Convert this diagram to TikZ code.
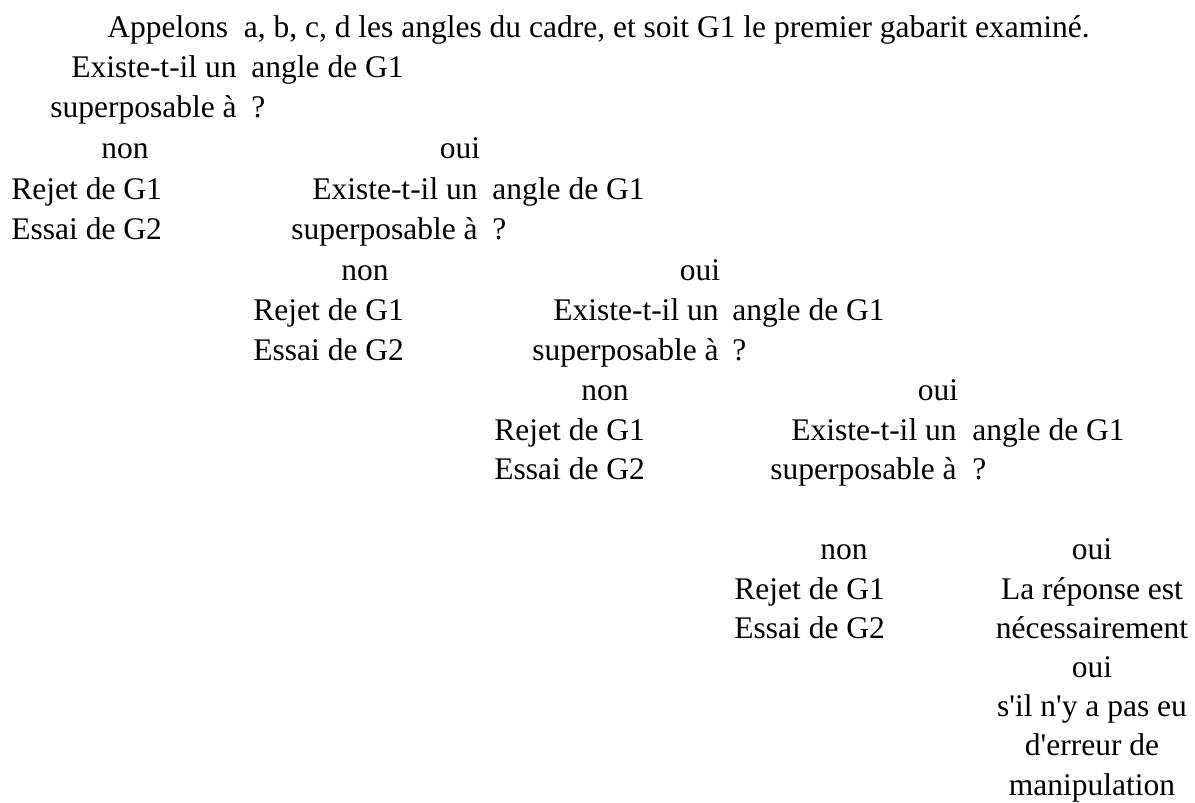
\documentclass[tikz,border=0pt]{standalone}
\usepackage{fontspec}
\usepackage{tikz}
\newfontfamily\cellfont{Liberation Serif}

\begin{document}
\begin{tikzpicture}[x=0.5pt,y=-0.5pt,
  cell/.style={inner sep=0pt,font=\cellfont\fontsize{15.75pt}{20pt}\selectfont},
  lcell/.style={cell,anchor=base west},
  rcell/.style={cell,anchor=base east},
  ccell/.style={cell,anchor=base}
]
\useasboundingbox (0,0) rectangle (1195,803);
\node[lcell] (intro) at (107,37) {Appelons\ \ a, b, c, d les angles du cadre, et soit G1 le premier gabarit examiné.};

% niveau 1
\node[rcell] (qa1) at (237,77) {Existe-t-il un};
\node[lcell] (qb1) at (251,77) {angle de G1};
\node[rcell] (qc1) at (237,117) {superposable à};
\node[lcell] (qd1) at (251,117) {?};
\node[ccell] (non1) at (125,158) {non};
\node[ccell] (oui1) at (460,158) {oui};
\node[lcell] (rej1) at (11,199) {Rejet de G1};
\node[lcell] (ess1) at (11,239) {Essai de G2};

% niveau 2
\node[rcell] (qa2) at (478,199) {Existe-t-il un};
\node[lcell] (qb2) at (492,199) {angle de G1};
\node[rcell] (qc2) at (478,239) {superposable à};
\node[lcell] (qd2) at (492,239) {?};
\node[ccell] (non2) at (365,280) {non};
\node[ccell] (oui2) at (700,280) {oui};
\node[lcell] (rej2) at (253,320) {Rejet de G1};
\node[lcell] (ess2) at (253,360) {Essai de G2};

% niveau 3
\node[rcell] (qa3) at (719,320) {Existe-t-il un};
\node[lcell] (qb3) at (732,320) {angle de G1};
\node[rcell] (qc3) at (719,360) {superposable à};
\node[lcell] (qd3) at (732,360) {?};
\node[ccell] (non3) at (605,400) {non};
\node[ccell] (oui3) at (938,400) {oui};
\node[lcell] (rej3) at (494,440) {Rejet de G1};
\node[lcell] (ess3) at (494,479) {Essai de G2};

% niveau 4
\node[rcell] (qa4) at (957,440) {Existe-t-il un};
\node[lcell] (qb4) at (972,440) {angle de G1};
\node[rcell] (qc4) at (957,479) {superposable à};
\node[lcell] (qd4) at (972,479) {?};
\node[ccell] (non4) at (844,559) {non};
\node[ccell] (oui4) at (1092,559) {oui};
\node[lcell] (rej4) at (734,599) {Rejet de G1};
\node[lcell] (ess4) at (734,638) {Essai de G2};

\foreach \txt [count=\i] in {La réponse est,nécessairement,oui,s'il n'y a pas eu,d'erreur de,manipulation}
  \node[ccell] (fin\i) at (1092,{599+39.2*(\i-1)}) {\txt};
\end{tikzpicture}
\end{document}
